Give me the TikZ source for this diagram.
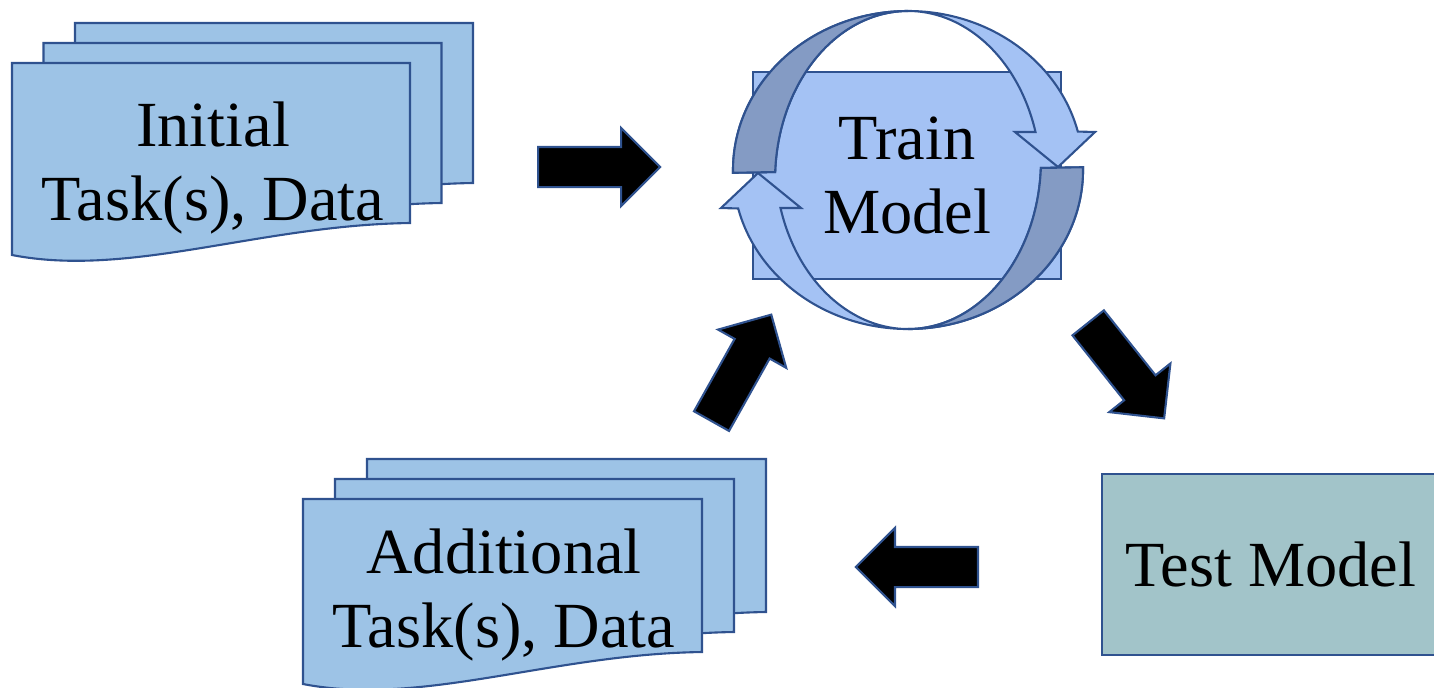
\documentclass[tikz,border=0pt]{standalone}
\usepackage{fontspec}
\setmainfont{Liberation Serif}
\usepackage{tikz}
\usetikzlibrary{arrows, positioning, shapes}
\definecolor{docblue}{HTML}{9DC3E6}
\definecolor{cyclight}{HTML}{A4C2F4}
\definecolor{cycdark}{HTML}{849BC4}
\definecolor{testteal}{HTML}{A2C4C9}
\definecolor{edgeblue}{HTML}{2F528F}

\tikzset{
	outl/.style={draw=edgeblue, line width=0.6pt},
	doc/.style={outl, fill=docblue},
	lbl/.style={align=center, font=\fontsize{18.3}{21.3}\selectfont, inner sep=0pt},
	fatarrow/.style={single arrow, outl, fill=black, minimum height=12.2mm, minimum width=7.6mm, single arrow head extend=1.9mm, inner sep=0pt, inner ysep=1.9mm, anchor=tail},
}

\begin{document}
\begin{tikzpicture}[x=0.01cm, y=-0.01cm]

\useasboundingbox (0,0) rectangle (1434,687);

% stacked pages, top left corner, width, height
\newcommand{\xdoc}[4]{\filldraw[doc] (#1,#2) -- ({#1+#3},#2) -- ({#1+#3},{#2+#4}) .. controls ({#1+0.623*#3},{#2+#4+2}) and ({#1+0.296*#3},{#2+#4+55}) .. (#1,{#2+#4+32}) -- cycle;}

% one of the two round arrows, the other one is turned by 180
\newcommand{\xcyc}{%
	\filldraw[outl, fill=cyclight] ([shift={(908,170)}]179:175 and 159) arc[start angle=179, end angle=346, x radius=175, y radius=159] -- (1095,132) -- (1058,167) -- (1015,132) -- (1035.5,132) arc[start angle=343.5, end angle=182.7, x radius=133, y radius=169] -- cycle;
	\filldraw[outl, fill=cycdark] ([shift={(908,170)}]179:175 and 159) arc[start angle=179, end angle=270, x radius=175, y radius=159] arc[start angle=270, end angle=182.7, x radius=133, y radius=169] -- cycle; % back side
}

\foreach \i in {2, 1, 0} {
	\xdoc{12+31.5*\i}{63-20*\i}{398}{160}
}
\node[lbl] (init) at (213,168) {Initial\\Task(s), Data};

\foreach \i in {2, 1, 0} {
	\xdoc{303+32*\i}{499-20*\i}{399}{153}
}
\node[lbl] (addl) at (504,595) {Additional\\Task(s), Data};

\node[lbl, outl, fill=cyclight, minimum width=30.8mm, minimum height=20.7mm] (train) at (907,175.5) {Train\\Model};
\xcyc
\begin{scope}[rotate around={180:(908,170)}]
	\xcyc
\end{scope}

\node[lbl, outl, fill=testteal, minimum width=33.8mm, minimum height=18.1mm] (test) at (1271,564.5) {Test Model};

\node[fatarrow] (toTrain) at (537,167) {};
\node[fatarrow, rotate=-51.5] (toTest) at (1087.5,322) {};
\node[fatarrow, rotate=180] (toAddl) at (979,567) {};
\node[fatarrow, rotate=60.7] (toCycle) at (711,422) {};

\end{tikzpicture}
\end{document}
